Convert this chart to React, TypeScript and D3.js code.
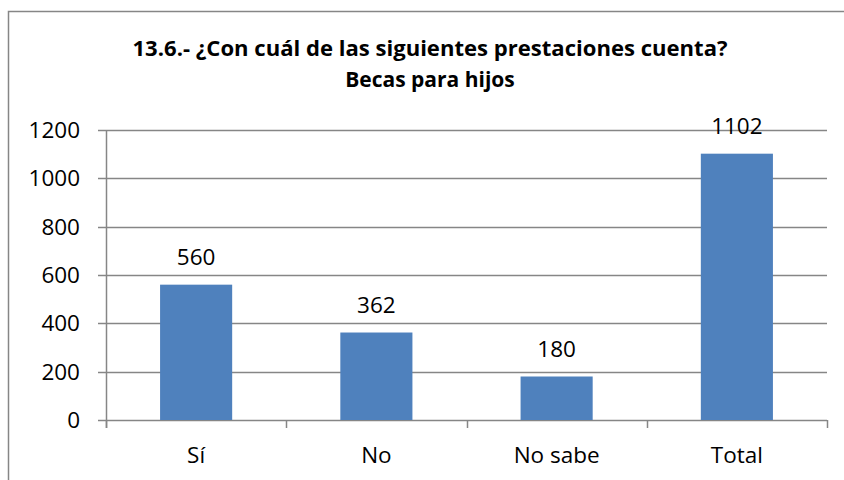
import React from "react";
import * as d3 from "d3";

const categories = ["Sí", "No", "No sabe", "Total"];
const values = [560, 362, 180, 1102];
const yTicks = [0, 200, 400, 600, 800, 1000, 1200];
const titleLines = ["13.6.- ¿Con cuál de las siguientes prestaciones cuenta?", "Becas para hijos"];

const W = 844;
const H = 480;
const plot = { left: 106, right: 827, top: 130, bottom: 420 };
const FONT = "'Open Sans', Calibri, sans-serif";

export default function App() {
  const x = d3.scaleBand<string>().domain(categories).range([plot.left, plot.right]).paddingInner(0.6).paddingOuter(0.3);
  const xb = d3.scaleBand<string>().domain(categories).range([plot.left, plot.right]);
  const y = d3.scaleLinear().domain([0, 1200]).range([plot.bottom, plot.top]);
  const grid = "#868686";
  const boundaries = categories.map((c) => xb(c) as number).concat([plot.right]);

  return (
    <svg width={W} height={H} style={{ position: "absolute", left: 0, top: 0, background: "#fff" }} fontFamily={FONT}>
      <rect x={8.5} y={11.5} width={900} height={500} fill="#fff" stroke={grid} strokeWidth={1.5} />
      <text x={430} y={56} textAnchor="middle" fontWeight="bold" fontSize={21} textLength={595} lengthAdjust="spacingAndGlyphs" fill="#000">
        {titleLines[0]}
      </text>
      <text x={430} y={87} textAnchor="middle" fontWeight="bold" fontSize={21} fill="#000">
        {titleLines[1]}
      </text>
      {yTicks.map((t) => (
        <g key={t}>
          <line x1={plot.left - 8} x2={plot.right} y1={Math.round(y(t)) + 0.5} y2={Math.round(y(t)) + 0.5} stroke={grid} strokeWidth={1.5} />
          <text x={80} y={y(t) + 8} textAnchor="end" fontSize={22.5} fill="#000">
            {t}
          </text>
        </g>
      ))}
      <line x1={plot.left + 0.5} x2={plot.left + 0.5} y1={plot.top} y2={plot.bottom + 8} stroke={grid} strokeWidth={1.5} />
      {boundaries.map((bx, i) => (
        <line key={i} x1={Math.round(bx) + 0.5} x2={Math.round(bx) + 0.5} y1={plot.bottom} y2={plot.bottom + 8} stroke={grid} strokeWidth={1.5} />
      ))}
      {categories.map((c, i) => (
        <g key={c}>
          <rect x={x(c)} y={y(values[i])} width={x.bandwidth()} height={plot.bottom - y(values[i])} fill="#4F81BD" />
          <text x={(x(c) as number) + x.bandwidth() / 2} y={y(values[i]) - 20} textAnchor="middle" fontSize={22.5} fill="#000">
            {values[i]}
          </text>
          <text x={(xb(c) as number) + xb.bandwidth() / 2} y={463} textAnchor="middle" fontSize={22.5} fill="#000">
            {c}
          </text>
        </g>
      ))}
    </svg>
  );
}
